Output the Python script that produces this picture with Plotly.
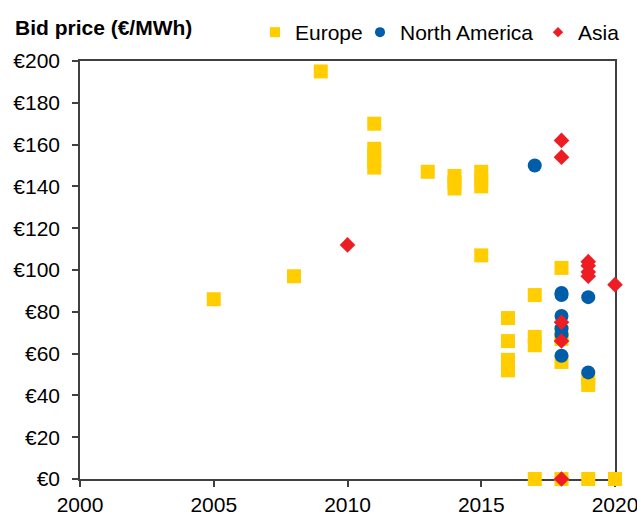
import plotly.graph_objects as go

# Europe
eu_year = [2005, 2008, 2009, 2011, 2011, 2011, 2011, 2011, 2013, 2014, 2014, 2014,
           2015, 2015, 2015, 2015, 2016, 2016, 2016, 2016, 2016,
           2017, 2017, 2017, 2017, 2018, 2018, 2018, 2018, 2018,
           2019, 2019, 2019, 2020]
eu_price = [86, 97, 195, 170, 158, 155, 152, 149, 147, 145, 142, 139,
            147, 143, 140, 107, 77, 66, 57, 55, 52,
            88, 68, 64, 0, 101, 70, 67, 56, 0,
            48, 45, 0, 0]

# North America
na_year = [2017, 2018, 2018, 2018, 2018, 2018, 2018, 2019, 2019]
na_price = [150, 89, 88, 78, 72, 69, 59, 87, 51]

# Asia
as_year = [2010, 2018, 2018, 2018, 2018, 2018, 2019, 2019, 2019, 2019, 2020]
as_price = [112, 162, 154, 75, 66, 0, 104, 102, 99, 97, 93]

YELLOW = "#FFCD00"
BLUE = "#005DAA"
RED = "#EE1D23"
FONT = "Liberation Sans, Arial, sans-serif"

fig = go.Figure()
series = [
    ("Europe", eu_year, eu_price, "square", YELLOW, 14, "legend", 255),
    ("North America", na_year, na_price, "circle", BLUE, 14, "legend2", 360),
    ("Asia", as_year, as_price, "diamond", RED, 12, "legend3", 538),
]
for name, xs, ys, sym, col, sz, lg, lx in series:
    fig.add_trace(go.Scatter(x=xs, y=ys, mode="markers", name=name, showlegend=False,
                             cliponaxis=False,
                             marker=dict(symbol=sym, color=col, size=sz, line=dict(width=0))))
legends = {}
for name, xs, ys, sym, col, sz, lg, lx in series:
    fig.add_trace(go.Scatter(x=[None], y=[None], mode="markers", name=name, legend=lg,
                             marker=dict(symbol=sym, color=col, size=10 if sym != "diamond" else 8,
                                         line=dict(width=0))))
    legends[lg] = dict(orientation="h", xref="container", yref="container",
                       x=lx / 637, xanchor="left", y=0.937, yanchor="middle",
                       font=dict(family=FONT, size=21), itemwidth=30,
                       bgcolor="rgba(0,0,0,0)")

axis_line = dict(showline=True, linecolor="#404040", linewidth=1.5, mirror=True,
                 ticks="outside", ticklen=6, tickcolor="#404040", tickwidth=1.5,
                 showgrid=False, zeroline=False, layer="below traces",
                 tickfont=dict(family=FONT, size=21, color="#000000"))

fig.update_layout(
    width=637, height=516,
    margin=dict(l=80, r=22, t=61, b=37, autoexpand=False),
    plot_bgcolor="white", paper_bgcolor="white",
    font=dict(family=FONT, size=21, color="#000000"),
    xaxis=dict(range=[2000, 2020], tickvals=[2000, 2005, 2010, 2015, 2020],
               ticklabelstandoff=0, ticklabeloverflow="allow", **axis_line),
    yaxis=dict(range=[0, 200], tickvals=list(range(0, 201, 20)),
               ticktext=["€" + str(v) for v in range(0, 201, 20)],
               ticklabelstandoff=8, ticklabeloverflow="allow", **axis_line),
    annotations=[dict(text="<b>Bid price (€/MWh)</b>", xref="paper", yref="paper",
                      x=-0.126, y=1.081, xanchor="left", yanchor="middle",
                      showarrow=False, font=dict(family=FONT, size=21))],
    **legends,
)

fig.write_html("out.html", config={"displayModeBar": False},
               post_script="document.body.style.margin='0';")
